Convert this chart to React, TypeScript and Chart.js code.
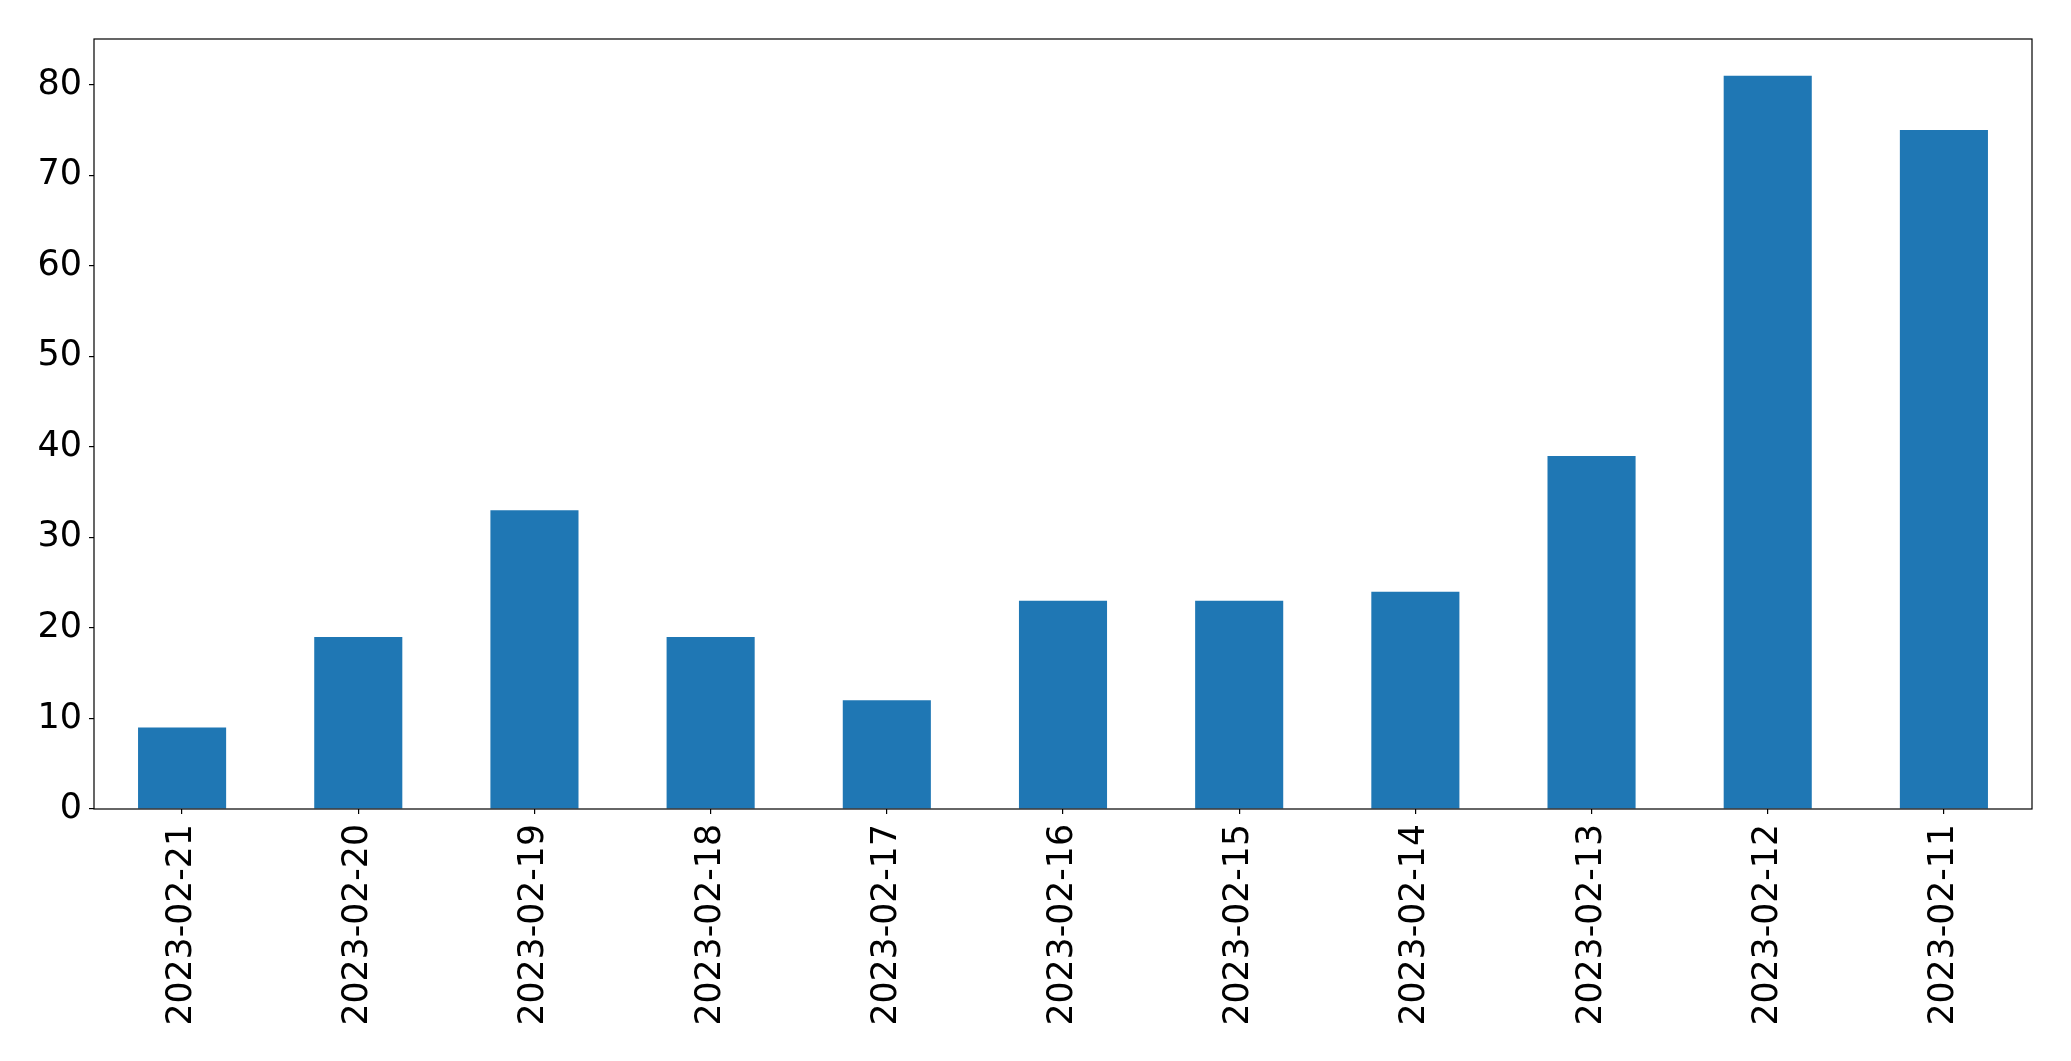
import React, { useEffect, useRef } from "react";
import { Chart, registerables } from "chart.js";

Chart.register(...registerables);

const categories: string[] = [
  "2023-02-21",
  "2023-02-20",
  "2023-02-19",
  "2023-02-18",
  "2023-02-17",
  "2023-02-16",
  "2023-02-15",
  "2023-02-14",
  "2023-02-13",
  "2023-02-12",
  "2023-02-11",
];
const values: number[] = [9, 19, 33, 19, 12, 23, 23, 24, 39, 81, 75];
const yTicks: number[] = [0, 10, 20, 30, 40, 50, 60, 70, 80];

const W = 2071;
const H = 1061;
const FONT = "'DejaVu Sans', sans-serif";

const framePlugin = {
  id: "frame",
  afterDraw(chart: any) {
    const { ctx, chartArea } = chart;
    ctx.save();
    ctx.strokeStyle = "#000";
    ctx.lineWidth = 1.2;
    ctx.strokeRect(
      chartArea.left,
      chartArea.top,
      chartArea.right - chartArea.left,
      chartArea.bottom - chartArea.top
    );
    ctx.restore();
  },
};

export default function App() {
  const ref = useRef<HTMLCanvasElement | null>(null);
  useEffect(() => {
    if (!ref.current) return;
    const maxVal = Math.max(...values) * 1.05;
    const chart = new Chart(ref.current, {
      type: "bar",
      data: {
        labels: categories,
        datasets: [
          {
            data: values,
            backgroundColor: "#1f77b4",
            borderColor: "#1f77b4",
            borderWidth: 0,
            categoryPercentage: 1,
            barPercentage: 0.5,
          },
        ],
      },
      options: {
        animation: false,
        responsive: false,
        devicePixelRatio: 1,
        layout: { padding: { top: 39, right: 39, left: 0, bottom: 0 } },
        plugins: {
          legend: { display: false },
          tooltip: { enabled: false },
        },
        scales: {
          x: {
            type: "category",
            offset: true,
            grid: {
              drawOnChartArea: false,
              drawTicks: true,
              tickLength: 5,
              color: "#000",
              lineWidth: 1.2,
              offset: false,
            },
            border: { display: false },
            ticks: {
              autoSkip: false,
              minRotation: 90,
              maxRotation: 90,
              padding: 10,
              color: "#000",
              font: { family: FONT, size: 34.7 },
            },
            afterFit(scale: any) {
              scale.height = 252;
            },
          },
          y: {
            type: "linear",
            min: 0,
            max: maxVal,
            grid: {
              drawOnChartArea: false,
              drawTicks: true,
              tickLength: 5,
              color: "#000",
              lineWidth: 1.2,
            },
            border: { display: false },
            ticks: {
              stepSize: 10,
              includeBounds: false,
              padding: 7,
              color: "#000",
              font: { family: FONT, size: 35 },
            },
            afterBuildTicks(scale: any) {
              scale.ticks = yTicks.map((v) => ({ value: v }));
            },
            afterFit(scale: any) {
              scale.width = 94;
            },
          },
        },
      },
      plugins: [framePlugin],
    });
    return () => chart.destroy();
  }, []);
  return (
    <div style={{ position: "fixed", left: 0, top: 0, width: W, height: H, background: "#fff" }}>
      <canvas ref={ref} width={W} height={H} style={{ width: W, height: H, display: "block" }} />
    </div>
  );
}
